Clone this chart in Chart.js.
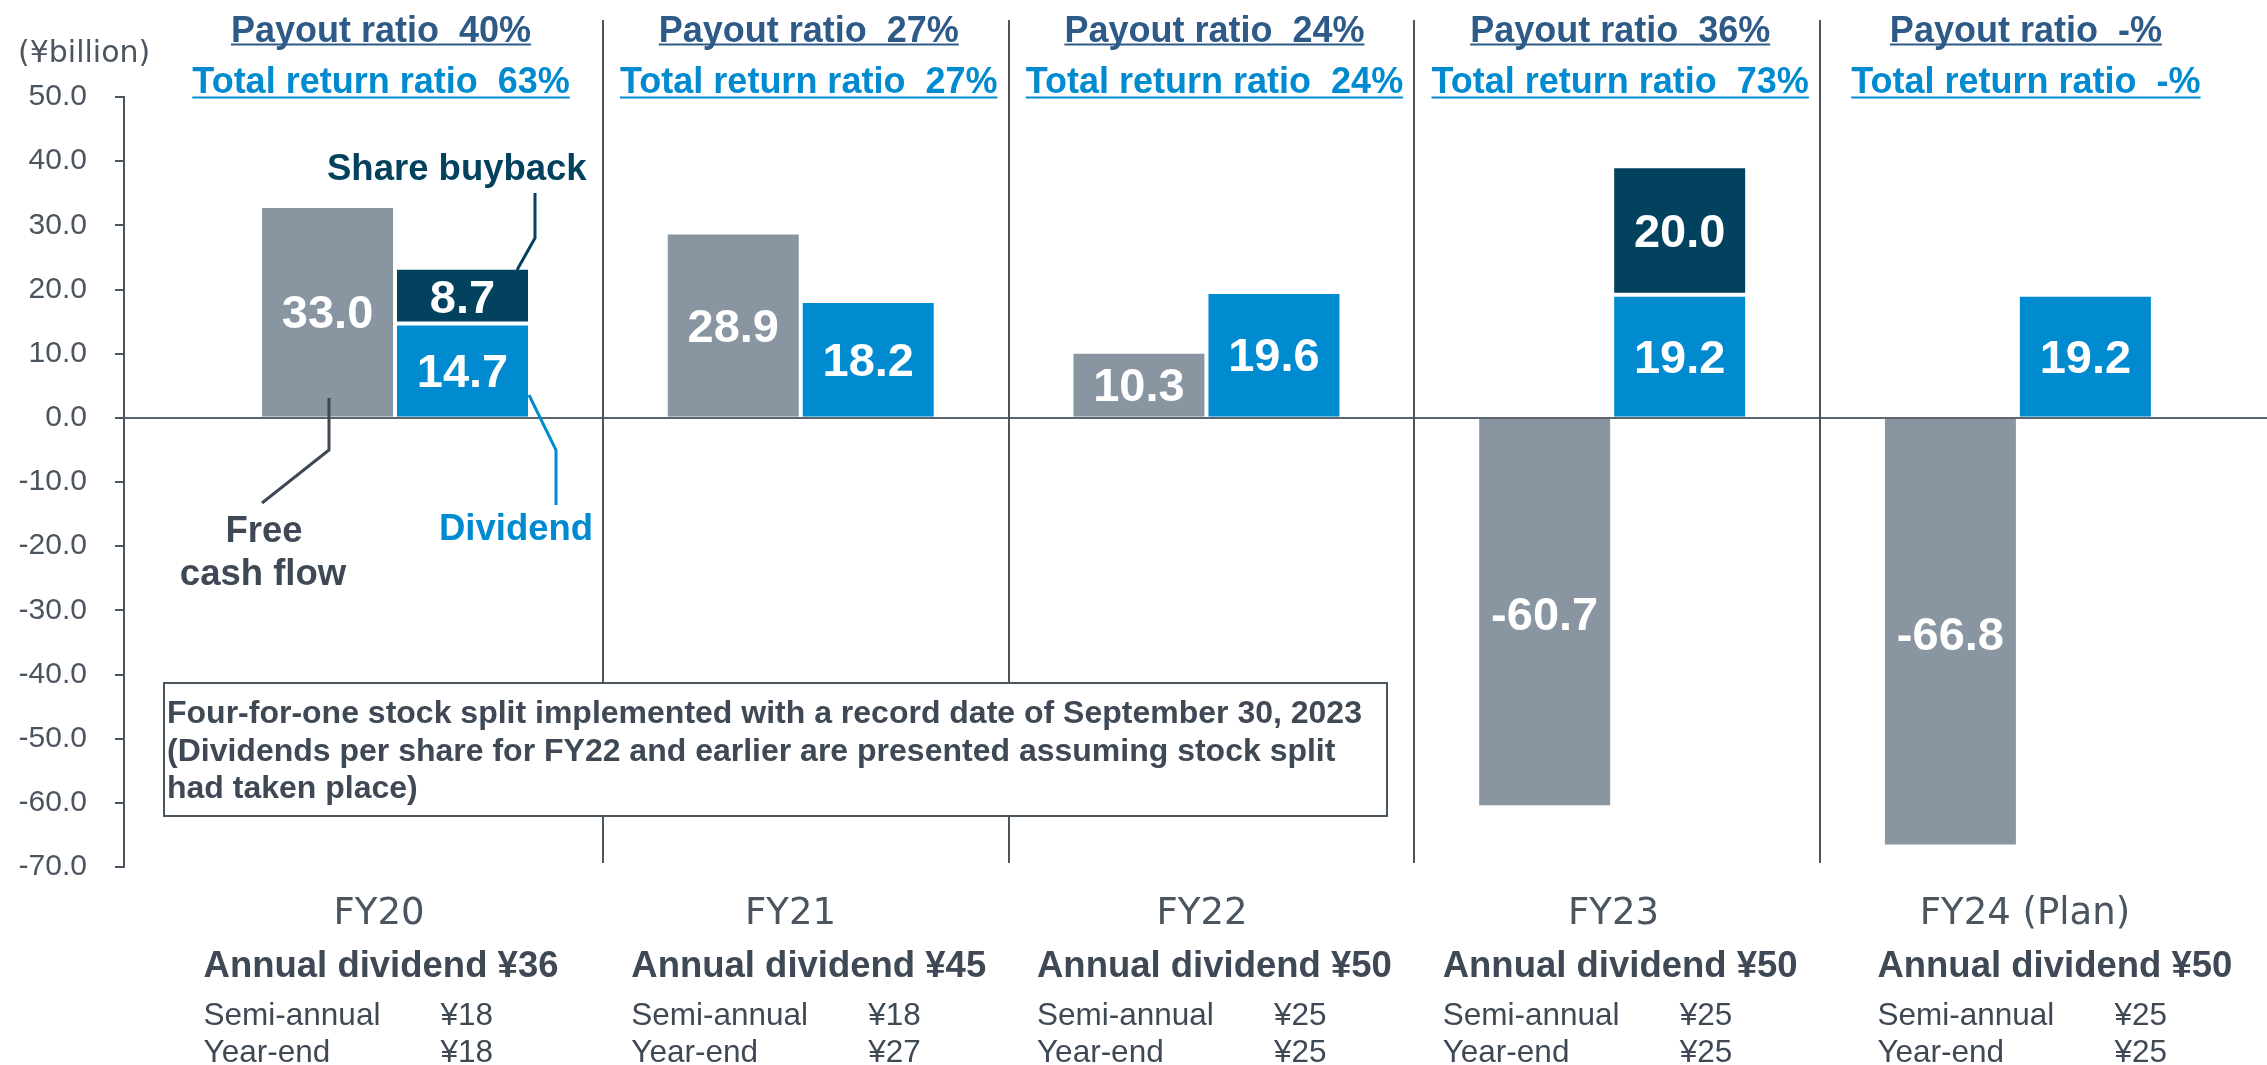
<!DOCTYPE html>
<html><head><meta charset="utf-8">
<script src="https://cdn.jsdelivr.net/npm/chart.js@4.4.1/dist/chart.umd.min.js"></script>
<style>html,body{margin:0;padding:0;background:#fff;overflow:hidden}#wrap{width:2267px;height:1065px;position:relative}canvas{display:block}</style>
</head><body><div id="wrap"><canvas id="c" width="2267" height="1065"></canvas></div>
<script>
// ---- data ----
const categories = ['FY20', 'FY21', 'FY22', 'FY23', 'FY24 (Plan)'];
const freeCashFlow = [33.0, 28.9, 10.3, -60.7, -66.8];
const dividend = [14.7, 18.2, 19.6, 19.2, 19.2];
const shareBuyback = [8.7, null, null, 20.0, null];
const payoutRatio = ['40', '27', '24', '36', '-'];
const totalReturnRatio = ['63', '27', '24', '73', '-'];
const annualDividend = ['¥36', '¥45', '¥50', '¥50', '¥50'];
const semiAnnualDividend = ['¥18', '¥18', '¥25', '¥25', '¥25'];
const yearEndDividend = ['¥18', '¥27', '¥25', '¥25', '¥25'];
const yTicks = [50, 40, 30, 20, 10, 0, -10, -20, -30, -40, -50, -60, -70];
const unitLabel = '(¥billion)';
const noteLines = [
  'Four-for-one stock split implemented with a record date of September 30, 2023',
  '(Dividends per share for FY22 and earlier are presented assuming stock split',
  'had taken place)'
];

// ---- styles ----
const C_GRAY = '#8995A1', C_BLUE = '#008BD0', C_NAVY = '#03425F';
const C_HEAD = '#2E5A87', C_TEXT = '#3F4955', C_AXIS = '#4A5560';
const ARIAL = '"Liberation Sans", Arial, sans-serif';
const WIDE = '"DejaVu Sans", Verdana, sans-serif';

const pts = arr => arr.map((y, i) => ({ x: i, y }));
const intTicks = s => { s.ticks = categories.map((_, i) => ({ value: i })); };

function headerCenter(xs, i) { return xs.getPixelForValue(i) + (i === 0 ? -14 : 8); }

const overlay = {
  id: 'overlay',
  beforeDatasetsDraw(chart) {
    const ctx = chart.ctx, xs = chart.scales.x;
    ctx.save();
    ctx.strokeStyle = C_AXIS; ctx.lineWidth = 2;
    for (let i = 0; i < categories.length - 1; i++) {
      const px = Math.round(xs.getPixelForValue(i + 0.5) + 5);
      ctx.beginPath(); ctx.moveTo(px, 20); ctx.lineTo(px, 863); ctx.stroke();
    }
    ctx.restore();
  },
  afterDraw(chart) {
    const ctx = chart.ctx, xs = chart.scales.x;
    ctx.save();
    // bar value labels
    ctx.fillStyle = '#fff';
    ctx.font = 'bold 47px ' + ARIAL;
    ctx.textAlign = 'center'; ctx.textBaseline = 'alphabetic';
    chart.data.datasets.forEach((ds, di) => {
      const meta = chart.getDatasetMeta(di);
      meta.data.forEach((el, i) => {
        const v = ds.data[i].y;
        if (v === null || v === undefined) return;
        const cy = (el.y + el.base) / 2;
        ctx.fillText(v.toFixed(1), el.x, cy + 17);
      });
    });
    // headers
    ctx.textAlign = 'left';
    ctx.font = 'bold 36px ' + ARIAL;
    categories.forEach((c, i) => {
      const cx = headerCenter(xs, i);
      const t1 = 'Payout ratio  ' + payoutRatio[i] + '%';
      const t2 = 'Total return ratio  ' + totalReturnRatio[i] + '%';
      let w = ctx.measureText(t1).width;
      ctx.fillStyle = C_HEAD;
      ctx.fillText(t1, cx - w / 2, 42);
      ctx.fillRect(cx - w / 2, 43.5, w, 2);
      w = ctx.measureText(t2).width;
      ctx.fillStyle = C_BLUE;
      ctx.fillText(t2, cx - w / 2, 93);
      ctx.fillRect(cx - w / 2, 96.5, w, 2);
    });
    // unit label
    ctx.fillStyle = C_AXIS;
    ctx.font = '30px ' + WIDE;
    ctx.fillText(unitLabel, 18, 62);
    // bottom dividend blocks
    categories.forEach((c, i) => {
      const cx = headerCenter(xs, i) + (i === 4 ? 29 : 0);
      ctx.font = 'bold 36.5px ' + ARIAL;
      const t = 'Annual dividend ' + annualDividend[i];
      const w = ctx.measureText(t).width;
      const left = cx - w / 2;
      ctx.fillStyle = C_TEXT;
      ctx.fillText(t, left, 977);
      ctx.font = '31.5px ' + ARIAL;
      ctx.fillText('Semi-annual', left, 1025);
      ctx.fillText(semiAnnualDividend[i], left + 237, 1025);
      ctx.fillText('Year-end', left, 1062);
      ctx.fillText(yearEndDividend[i], left + 237, 1062);
    });
    // series call-outs
    ctx.lineWidth = 3; ctx.lineJoin = 'miter';
    const line = (col, p) => {
      ctx.strokeStyle = col; ctx.beginPath(); ctx.moveTo(p[0][0], p[0][1]);
      for (let k = 1; k < p.length; k++) ctx.lineTo(p[k][0], p[k][1]);
      ctx.stroke();
    };
    line(C_NAVY, [[535, 193], [535, 238], [517, 270]]);
    line(C_TEXT, [[329, 398], [329, 450], [262, 503]]);
    line(C_BLUE, [[529, 395], [556, 450], [556, 505]]);
    ctx.font = 'bold 36.5px ' + ARIAL;
    ctx.fillStyle = C_NAVY; ctx.textAlign = 'left';
    ctx.fillText('Share buyback', 327, 180);
    ctx.textAlign = 'center';
    ctx.fillStyle = C_TEXT;
    ctx.fillText('Free', 264, 542);
    ctx.fillText('cash flow', 263, 585);
    ctx.fillStyle = C_BLUE;
    ctx.fillText('Dividend', 516, 540);
    // note box
    ctx.fillStyle = '#fff';
    ctx.fillRect(164, 683, 1223, 133);
    ctx.strokeStyle = C_AXIS; ctx.lineWidth = 2;
    ctx.strokeRect(164, 683, 1223, 133);
    ctx.fillStyle = C_TEXT; ctx.textAlign = 'left';
    ctx.font = 'bold 32px ' + ARIAL;
    noteLines.forEach((t, k) => ctx.fillText(t, 167, 723 + k * 37.5));
    ctx.restore();
  }
};

new Chart(document.getElementById('c'), {
  type: 'bar',
  data: {
    datasets: [
      { label: 'Free cash flow', data: pts(freeCashFlow), stack: 'fcf', backgroundColor: C_GRAY,
        borderColor: '#fff', borderWidth: 2 },
      { label: 'Dividend', data: pts(dividend), stack: 'ret', backgroundColor: C_BLUE,
        borderColor: '#fff', borderWidth: 2 },
      { label: 'Share buyback', data: pts(shareBuyback), stack: 'ret', backgroundColor: C_NAVY,
        borderColor: '#fff', borderWidth: 2, borderSkipped: false }
    ]
  },
  options: {
    responsive: false, animation: false, devicePixelRatio: 1,
    categoryPercentage: 0.6654, barPercentage: 1.0,
    layout: { padding: { top: 97, left: 0, right: 0, bottom: 0 } },
    plugins: { legend: { display: false }, tooltip: { enabled: false } },
    scales: {
      x: { type: 'linear', display: false, offset: false, grid: { offset: false },
        min: -0.668, max: 4.614, afterBuildTicks: intTicks },
      xl: { type: 'linear', position: 'bottom', offset: false, min: -0.6197, max: 4.5881, afterBuildTicks: intTicks,
        grid: { display: false, drawTicks: false, offset: false }, border: { display: false },
        ticks: { autoSkip: false, maxRotation: 0, padding: 25, color: C_AXIS,
          font: { family: WIDE, size: 37 }, callback: v => categories[v] ?? '' },
        afterFit: s => { s.height = 198; } },
      y: { type: 'linear', stacked: true, min: -70, max: 50, z: 1, afterBuildTicks: s => { s.ticks = yTicks.map(v => ({ value: v })); },
        grid: { color: c => (c.tick && c.tick.value === 0) ? '#5B6670' : 'rgba(0,0,0,0)', tickColor: C_AXIS, tickLength: 9, lineWidth: 2 },
        border: { display: true, color: C_AXIS, width: 2 },
        ticks: { padding: 28, color: C_AXIS, font: { family: ARIAL, size: 30 }, callback: v => Number(v).toFixed(1) },
        afterFit: s => { s.width = 124; } }
    }
  },
  plugins: [overlay]
});
</script></body></html>
